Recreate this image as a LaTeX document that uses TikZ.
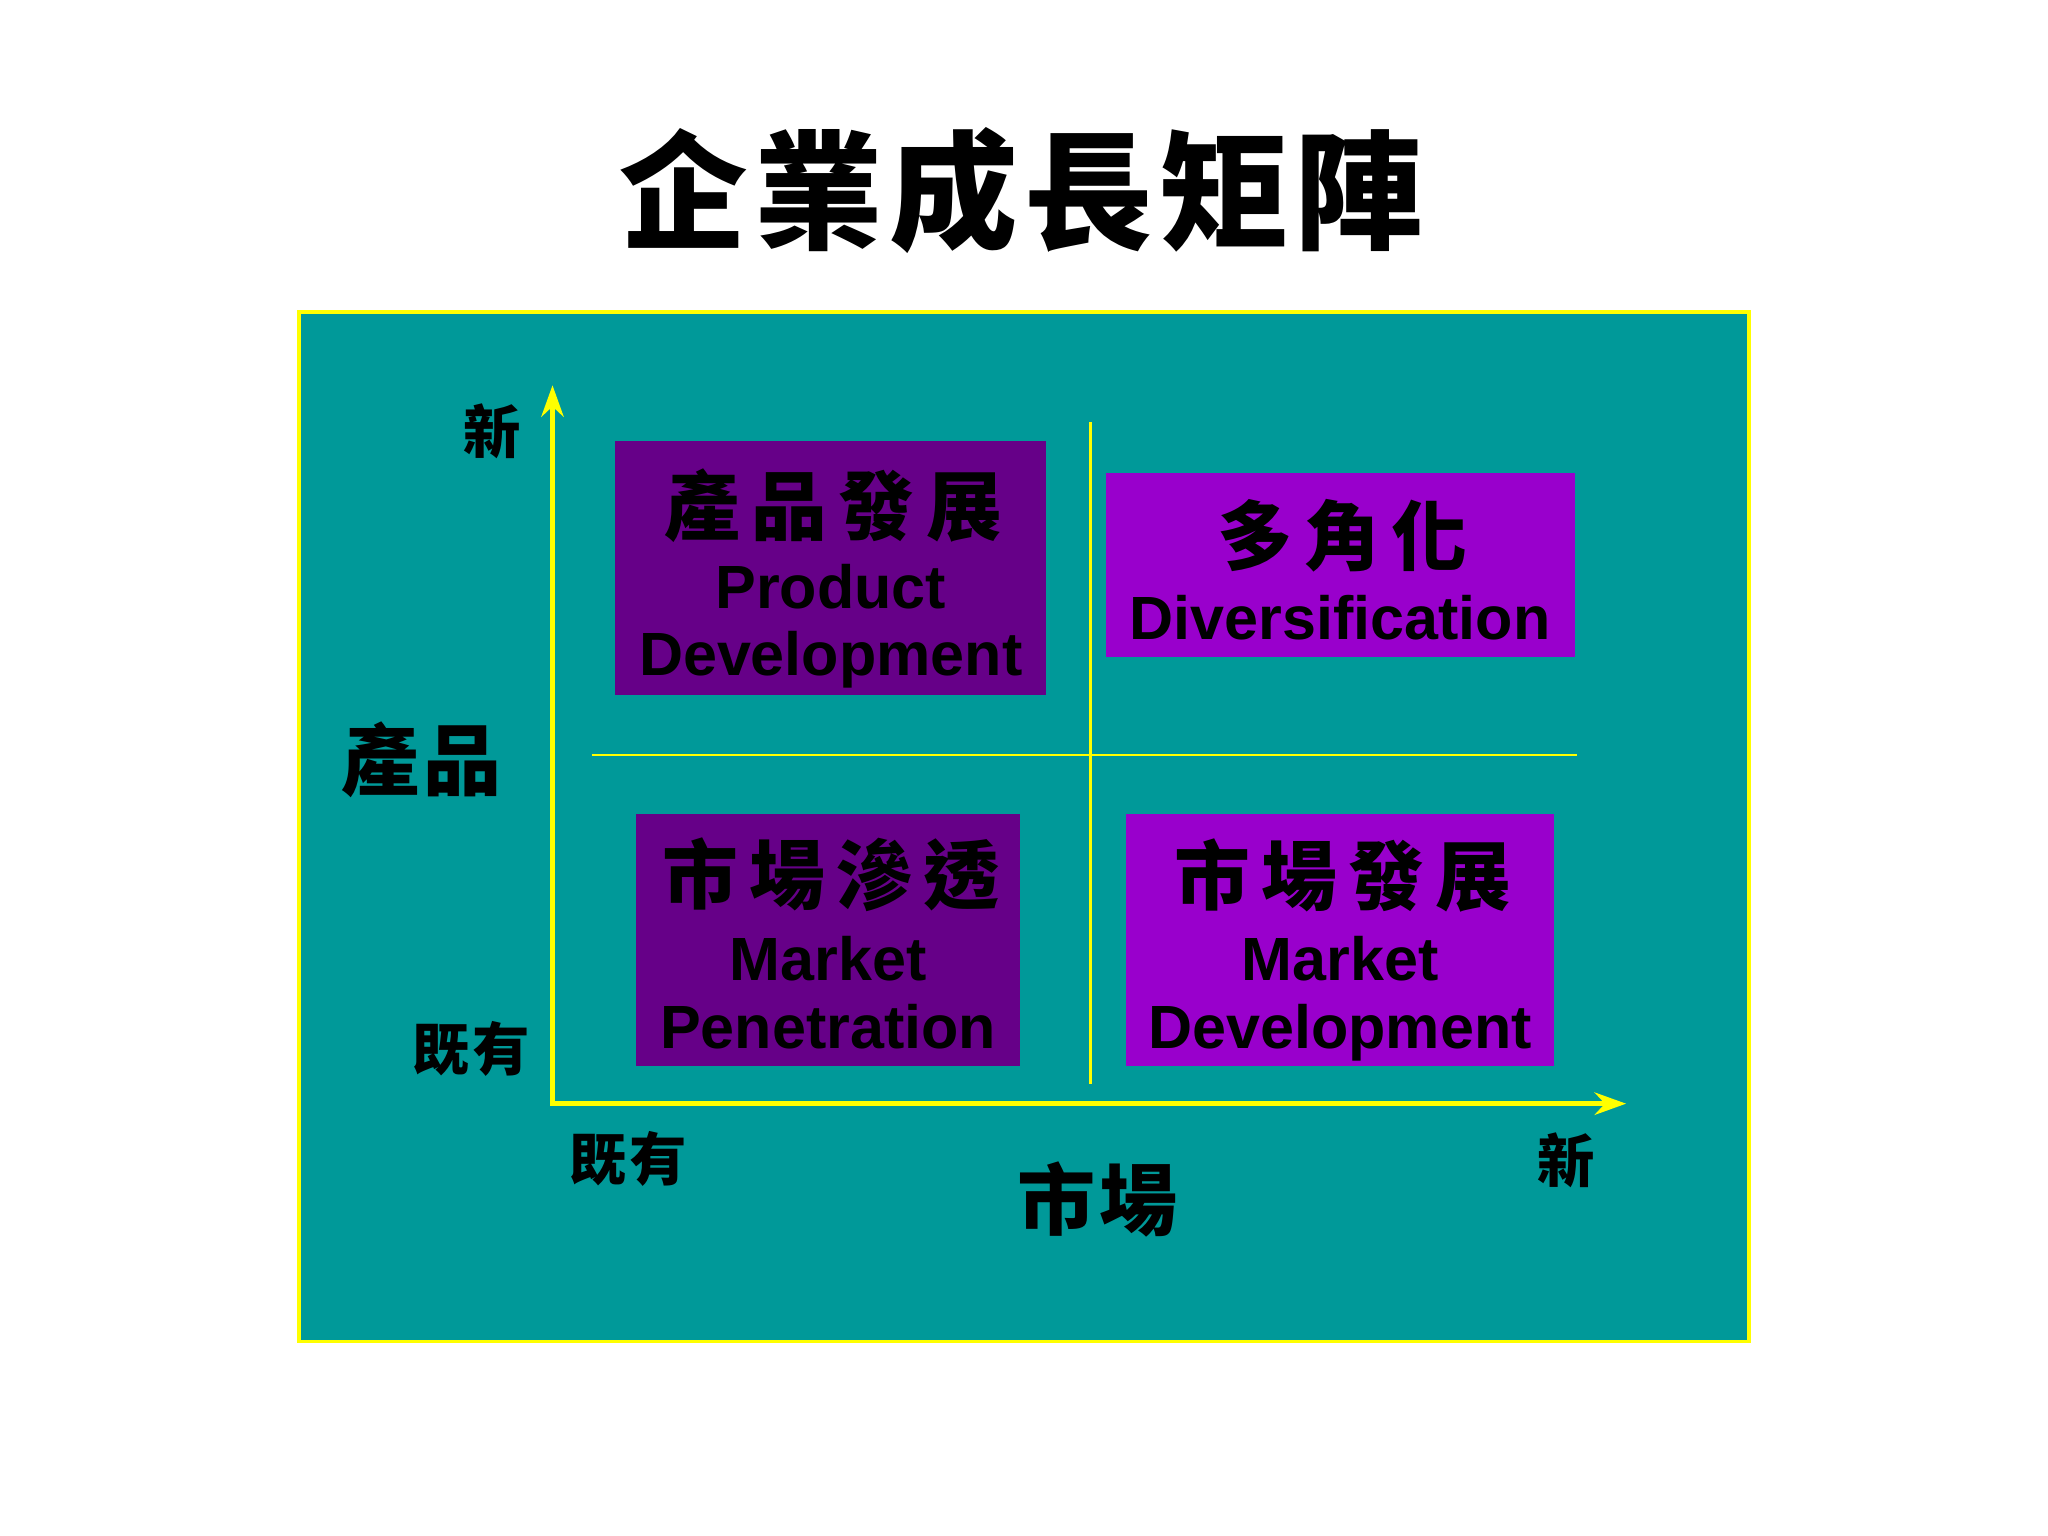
\documentclass[tikz,border=0pt]{standalone}
\usepackage{fontspec}
\setmainfont{Liberation Sans}
\newfontfamily\cjk{Noto Sans CJK TC}
\usetikzlibrary{arrows.meta, positioning, calc}
\definecolor{t1}{HTML}{009999}
\definecolor{p1}{HTML}{660088}
\definecolor{p2}{HTML}{9900CC}
\definecolor{y1}{HTML}{FFFF00}

\tikzset{
    quad/.style={rectangle, inner sep=0pt, outer sep=0pt},
    zh/.style={inner sep=0pt, font=\cjk\bfseries\fontsize{16.5}{16.5}\selectfont\addfontfeature{LetterSpace=15}},
    en/.style={inner sep=0pt, anchor=base, font=\bfseries\fontsize{13.3}{13.3}\selectfont},
    axlabel/.style={inner sep=0pt, font=\cjk\bfseries\fontsize{12.5}{12.5}\selectfont\addfontfeature{LetterSpace=5}},
    axtitle/.style={inner sep=0pt, font=\cjk\bfseries\fontsize{17}{17}\selectfont\addfontfeature{LetterSpace=5}}
}

\begin{document}
\begin{tikzpicture}[x=1cm, y=-1cm, line join=miter]

    % page and panel
    \useasboundingbox[fill=white] (0,0) rectangle (15.68,11.76);
    \draw[y1, fill=t1, line width=0.8pt] (2.29,2.39) rectangle (13.39,10.27);

    % title
    \node[inner sep=0pt, font=\cjk\bfseries\fontsize{28}{28}\selectfont\addfontfeature{LetterSpace=5}] (ttl) at (7.82,1.46) {企業成長矩陣};

    % axes
    \coordinate (o) at (4.23,8.45);
    \coordinate (ytop) at (4.23,2.95);
    \coordinate (xend) at (12.45,8.45);
    \draw[y1, line width=1.2pt, {Stealth[length=0.24cm, width=0.17cm]}-{Stealth[length=0.24cm, width=0.17cm]}] (ytop) -- (o) -- (xend);

    % quadrant dividers
    \coordinate (vtop) at (8.35,3.23);
    \coordinate (vbot) at (8.35,8.30);
    \coordinate (hl) at (4.53,5.78);
    \coordinate (hr) at (12.07,5.78);
    \draw[y1, line width=0.6pt] (vtop) -- (vbot);
    \draw[y1, line width=0.6pt] (hl) -- (hr);

    % axis labels
    \node[axlabel] (ynew) at (3.77,3.30) {新};
    \node[axtitle] (yttl) at (3.23,5.82) {產品};
    \node[axlabel] (yold) at (3.61,8.03) {既有};
    \node[axlabel] (xold) at (4.81,8.87) {既有};
    \node[axlabel] (xnew) at (11.99,8.88) {新};
    \node[axtitle] (xttl) at (8.40,9.18) {市場};

    % quadrant boxes
    \node[quad, fill=p1, minimum width=3.30cm, minimum height=1.94cm] (pd) at (6.36,4.35) {};
    \node[quad, fill=p2, minimum width=3.59cm, minimum height=1.41cm] (dv) at (10.265,4.325) {};
    \node[quad, fill=p1, minimum width=2.94cm, minimum height=1.93cm] (mp) at (6.34,7.195) {};
    \node[quad, fill=p2, minimum width=3.28cm, minimum height=1.93cm] (md) at (10.26,7.195) {};

    % box texts
    \node[zh] (pdzh) at (6.38,3.87) {產品發展};
    \node[en] (pden1) at (6.36,4.66) {Product};
    \node[en] (pden2) at (6.36,5.17) {Development};

    \node[zh] (dvzh) at (10.28,4.10) {多角化};
    \node[en] (dven) at (10.26,4.90) {Diversification};

    \node[zh] (mpzh) at (6.36,6.70) {市場滲透};
    \node[en] (mpen1) at (6.34,7.51) {Market};
    \node[en] (mpen2) at (6.34,8.03) {Penetration};

    \node[zh] (mdzh) at (10.28,6.70) {市場發展};
    \node[en] (mden1) at (10.26,7.51) {Market};
    \node[en] (mden2) at (10.26,8.03) {Development};

\end{tikzpicture}
\end{document}
